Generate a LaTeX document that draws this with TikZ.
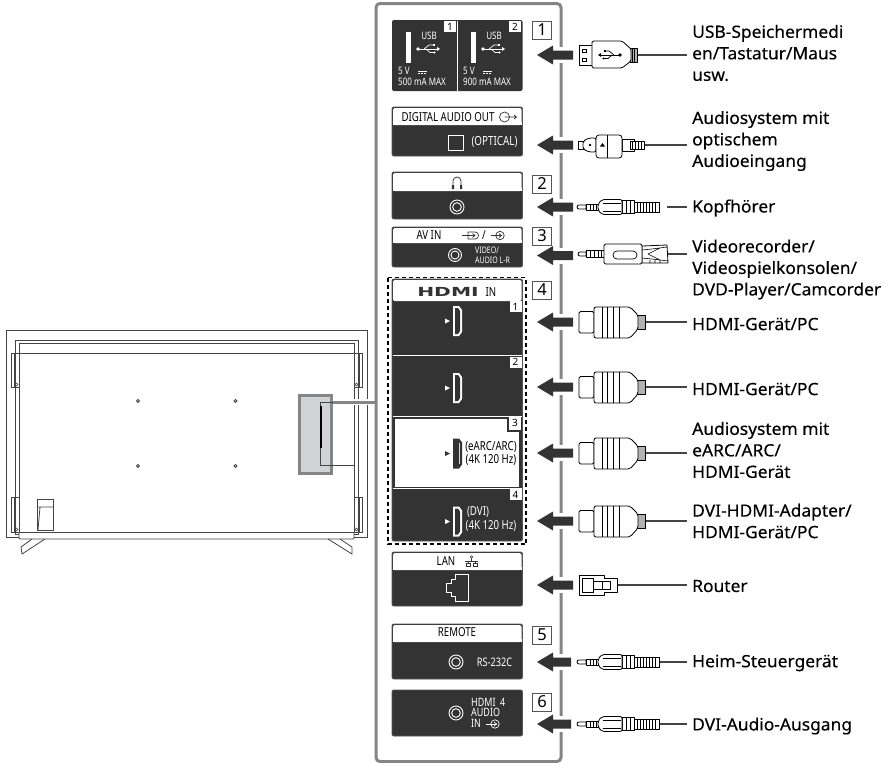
\documentclass[tikz,border=0pt]{standalone}
\usepackage{fontspec}
\setmainfont{Noto Sans}
\newfontfamily\labf[FakeBold=0.25,FakeStretch=1.03]{Noto Sans}
\newfontfamily\condf[FakeStretch=0.78]{Noto Sans}
\newfontfamily\logof{DejaVu Sans}
\definecolor{pdark}{HTML}{333333}
\definecolor{pline}{HTML}{555555}
\definecolor{fgray}{HTML}{858585}
\definecolor{hgray}{HTML}{D2D3D5}
\definecolor{tline}{HTML}{444444}
\tikzset{
  lab/.style={anchor=west,inner sep=0pt,align=left,font=\fontsize{16.9}{21.5}\selectfont\labf,text=black},
  numbox/.style={draw=pline,line width=0.9pt,fill=white,minimum width=19pt,minimum height=18pt,inner sep=0pt,font=\fontsize{16.5}{18}\selectfont,text=black},
  wt/.style={inner sep=0pt,text=white,font=\fontsize{10.3}{11}\selectfont\condf},
  bt/.style={inner sep=0pt,text=black,font=\fontsize{12.4}{13}\selectfont\condf},
  cab/.style={line width=0.8pt,draw=black,fill=white,line join=round},
  cline/.style={line width=1.1pt,draw=tline},
  tvl/.style={line width=0.8pt,draw=tline},
  tab/.style={fill=white,inner sep=0pt,minimum width=12pt,minimum height=11pt,font=\fontsize{10}{10}\selectfont,text=black}
}
% panel: y1 header-bottom y2
\newcommand{\panelbox}[3]{%
  \fill[pdark,rounded corners=2pt] (392,#1) rectangle (522.5,#3);
  \fill[white,rounded corners=1.5pt] (393,{#1+1}) rectangle (521.5,#2);
  \fill[white] (393,{#2-3}) rectangle (521.5,#2);
  \draw[pline,line width=0.9pt,rounded corners=2pt] (392,#1) rectangle (522.5,#3);
}
\newcommand{\larrow}[2]{% y, shaft end
  \fill[white] (552,{#1-8}) rectangle ({#2+2},{#1+8});
  \fill[pdark] (537,#1) -- (553,{#1-9.5}) -- (553,{#1-4.5}) -- (#2,{#1-4.5}) -- (#2,{#1+4.5}) -- (553,{#1+4.5}) -- (553,{#1+9.5}) -- cycle;
}
\newcommand{\usbsym}[4]{% x y xscale color
  \begin{scope}[shift={(#1,#2)},xscale=#3]
    \draw[#4,line width=0.7pt] (-11,0) -- (9,0);
    \draw[#4,line width=0.7pt] (-5,0) -- (0,-4) -- (4,-4);
    \draw[#4,line width=0.7pt] (-3,0) -- (1,3.5) -- (5,3.5);
    \fill[#4] (-11,0) circle[radius=1.8];
    \fill[#4] (11,0) -- (8,-2) -- (8,2) -- cycle;
    \fill[#4] (3.5,-5) rectangle (5.5,-3);
    \fill[#4] (5.5,3.5) circle[radius=1.1];
  \end{scope}
}
\newcommand{\inicon}[3]{% x y color: arrow into circle
  \draw[#3,line width=0.7pt] (#1,#2) circle[radius=4.2];
  \draw[#3,line width=0.7pt] ({#1-9.5},#2) -- ({#1+1.5},#2);
  \draw[#3,line width=0.7pt] ({#1-1},{#2-2}) -- ({#1+1.5},#2) -- ({#1-1},{#2+2});
}
\newcommand{\jacksym}[3]{% x y r
  \draw[white,line width=0.9pt] (#1,#2) circle[radius=#3];
  \draw[white,line width=0.9pt] (#1,#2) circle[radius={#3*0.62}];
}
\newcommand{\hdmiport}[4]{% y center, fill color, inner color, tri color
  \fill[#4] (445,{#1-2.5}) -- (450,#1) -- (445,{#1+2.5}) -- cycle;
  \fill[#2] (453,{#1-15}) -- (459,{#1-15}) -- (462,{#1-11}) -- (462,{#1+11}) -- (459,{#1+15}) -- (453,{#1+15}) -- cycle;
  \fill[#3] (455,{#1-13}) -- (458,{#1-13}) -- (460,{#1-10}) -- (460,{#1+10}) -- (458,{#1+13}) -- (455,{#1+13}) -- cycle;
}
\newcommand{\hdmicable}[1]{%
  \draw[cab,rounded corners=1.5pt] (579,{#1-10.5}) rectangle (594,{#1+11});
  \draw[cab,fill=gray!60] (637,{#1-7}) rectangle (645,{#1+7});
  \draw[cab,rounded corners=2pt] (594,{#1-15}) -- (630,{#1-15}) -- (638,{#1-7}) -- (638,{#1+7}) -- (630,{#1+16}) -- (594,{#1+16}) -- cycle;
  \draw[line width=0.7pt] (602,{#1-15}) -- (602,{#1+16}) (607,{#1-15}) -- (607,{#1+16}) (613,{#1-15}) -- (613,{#1+16}) (619,{#1-15}) -- (619,{#1+16});
}
\newcommand{\minicable}[1]{% y
  \draw[cab] (586,{#1-2}) -- (579,{#1-2}) arc[start angle=-90,end angle=-270,radius=2] -- (586,{#1+2}) -- cycle;
  \draw[cab] (586,{#1-3}) rectangle (598,{#1+3});
  \draw[line width=0.6pt] (590,{#1-3}) -- (590,{#1+3}) (593,{#1-3}) -- (593,{#1+3}) (596,{#1-3}) -- (596,{#1+3});
  \draw[cab] (634,{#1-5}) rectangle (659,{#1+5});
  \foreach \k in {637,640,643,646,649,652,655}{\draw[line width=0.7pt] (\k,{#1-5}) -- (\k,{#1+5});}
  \draw[cab] (622,{#1-6.5}) rectangle (634,{#1+6.5});
  \draw[line width=0.6pt] (626,{#1-6.5}) -- (626,{#1+6.5}) (630,{#1-6.5}) -- (630,{#1+6.5});
  \draw[cab,rounded corners=2pt] (598,{#1-3}) -- (602,{#1-7.5}) -- (622,{#1-7.5}) -- (622,{#1+7.5}) -- (602,{#1+7.5}) -- (598,{#1+3}) -- cycle;
  \draw[line width=0.6pt] (603,{#1-4}) -- (621,{#1-4}) (603,{#1+4}) -- (621,{#1+4});
}
\begin{document}
\begin{tikzpicture}[x=1pt,y=-1pt]
\useasboundingbox (0,0) rectangle (892,763);
\fill[white] (0,0) rectangle (892,763);
% ---------- TV ----------
\draw[tvl] (19,537) -- (6,537) -- (6,330) -- (367,330) -- (367,537) -- (354,537);
\draw[tvl] (19,534) -- (15,534) -- (15,340) -- (358,340) -- (358,534) -- (354,534);
\draw[tvl] (19,533) -- (19,343) -- (354,343) -- (354,533);
\draw[tvl] (19,353) -- (354,353);
\draw[line width=1pt,draw=tline] (19,532) -- (354,532);
\draw[tvl,rounded corners=1pt] (19,532) -- (19,539) -- (354,539) -- (354,532);
\foreach \ya/\yb in {353/387,497/532}{
  \draw[tvl] (19,\ya) -- (11,\ya) -- (11,\yb) -- (19,\yb);
  \draw[tvl] (354,\ya) -- (362,\ya) -- (362,\yb) -- (354,\yb);
  \draw[tvl,line width=0.5pt] (14,\ya) -- (14,\yb) (359,\ya) -- (359,\yb);
  \draw[tvl,line width=0.5pt] (16.5,{\yb-2.5}) circle[radius=1.5] (356.5,{\yb-2.5}) circle[radius=1.5];
}
\foreach \sx in {138,235.5}\foreach \sy in {401,466}{\draw[tvl] (\sx,\sy) circle[radius=1.5];}
\draw[tvl] (21,547) -- (32,539) (45,539) -- (22,554) -- (21,547);
\draw[tvl] (352,547) -- (340,539) (328,539) -- (352,554) -- (352,547);
\draw[tvl] (37,530) rectangle (53,499);
\draw[tvl] (37,507) -- (53,507) (40,507) -- (38,530);
\draw[tvl] (37,530) -- (53,530);
% highlight
\fill[white] (333,399) rectangle (376,405);
\draw[fgray,line width=3pt,fill=hgray] (299.5,395.5) rectangle (331.5,473);
\draw[fgray,line width=3pt] (331.5,402) -- (376,402);
\draw[tvl] (333,402.5) -- (320,402.5) -- (320,465.5) -- (354,465.5);
\draw[line width=1.3pt,draw=black] (321,406) -- (321,448);
% ---------- frame ----------
\draw[fgray,line width=3pt,rounded corners=4pt] (376,3.5) rectangle (561,761.5);
% ---------- USB panel ----------
\fill[pdark,rounded corners=2pt] (392,20) rectangle (522.5,91);
\draw[white,line width=0.5pt] (457,21) -- (457,91);
\node[tab] at (450,26.5) {1};
\node[tab] at (515,26.5) {2};
\fill[white] (406,32) rectangle (411,63);
\fill[white] (471,32) rectangle (476,63);
\node[wt] at (429,36) {USB};
\node[wt] at (494,36) {USB};
\usbsym{429}{49}{1}{white}
\usbsym{494}{49}{1}{white}
\node[wt,anchor=west] at (398,71) {5 V};
\node[wt,anchor=west] at (463,71) {5 V};
\foreach \q in {418,483}{\draw[white,line width=0.6pt] (\q,71) -- (\q+9,71); \draw[white,line width=0.6pt,dash pattern=on 2pt off 1pt] (\q,73) -- (\q+9,73);}
\node[wt,anchor=west] at (398,82) {500 mA MAX};
\node[wt,anchor=west] at (463,82) {900 mA MAX};
% ---------- Digital audio ----------
\panelbox{107}{125}{156}
\node[bt] at (448,117) {DIGITAL AUDIO OUT};
\draw[pdark,line width=0.7pt] (504.5,117) circle[radius=5];
\draw[pdark,line width=0.7pt] (504.5,117) -- (516.5,117) (514,115) -- (516.5,117) -- (514,119);
\draw[white,line width=0.8pt] (448,135) rectangle (463,150);
\node[wt,font=\fontsize{12.6}{13}\selectfont\condf] at (494.5,142) {(OPTICAL)};
% ---------- Headphone ----------
\panelbox{172}{191}{219}
\draw[pdark,line width=0.8pt] (453,186) -- (453,181) arc[start angle=180,end angle=360,radius=4] -- (461,186);
\fill[pdark] (451.8,185) rectangle (454,189) (460,185) rectangle (462.2,189);
\jacksym{457}{207}{7}
% ---------- AV IN ----------
\panelbox{227}{243}{267}
\node[bt] at (429,235) {AV IN};
\draw[pdark,line width=0.7pt] (468,232) -- (475,232) arc[start angle=-90,end angle=90,radius=3.5] -- (468,239) -- cycle;
\draw[pdark,line width=0.7pt] (462,235.5) -- (475,235.5) (472.5,233.5) -- (475,235.5) -- (472.5,237.5);
\node[bt] at (484,235.5) {/};
\inicon{500}{235.5}{pdark}
\jacksym{455}{255}{6.5}
\node[wt,anchor=west,font=\fontsize{9}{9}\selectfont\condf] at (475,250) {VIDEO/};
\node[wt,anchor=west,font=\fontsize{9}{9}\selectfont\condf] at (475,260) {AUDIO L-R};
% ---------- HDMI ----------
\fill[pdark,rounded corners=2pt] (392,279) rectangle (522.5,541);
\fill[white,rounded corners=1.5pt] (393,280) rectangle (521.5,301);
\draw[pline,line width=0.9pt,rounded corners=2pt] (392,279) rectangle (522.5,541);
\node[inner sep=0pt,xscale=1.62,text=pdark,font=\fontsize{12.5}{13}\selectfont\logof\bfseries] at (448,291.5) {HDMI};
\node[bt] at (491,292) {IN};
\draw[white,line width=0.5pt] (393,355.5) -- (522,355.5) (393,416) -- (522,416);
\fill[white] (395,419) rectangle (519,487);
\draw[white,line width=0.7pt] (393,488.5) -- (522,488.5);
\fill[pdark] (507,419) rectangle (519,432);
\fill[white] (509,417) rectangle (521,429.5);
\node[tab,fill=white,minimum width=12pt] at (515,423) {3};
\node[tab] at (515.5,306.5) {1};
\node[tab] at (515.5,362) {2};
\node[tab] at (515.5,494.5) {4};
\hdmiport{321}{white}{pdark}{white}
\hdmiport{388}{white}{pdark}{white}
\hdmiport{453.5}{pdark}{pdark}{pdark}
\draw[white!70!gray,line width=1pt] (459.5,443) -- (459.5,464);
\hdmiport{521.5}{white}{pdark}{white}
\node[bt] at (491,447) {(eARC/ARC)};
\node[bt] at (491,460) {(4K 120 Hz)};
\node[wt,font=\fontsize{12.4}{13}\selectfont\condf] at (478,512) {(DVI)};
\node[wt,font=\fontsize{12.4}{13}\selectfont\condf] at (491,526) {(4K 120 Hz)};
\draw[black,line width=1.6pt,dash pattern=on 4pt off 3pt] (388,277.5) rectangle (526,544);
% ---------- LAN ----------
\panelbox{552}{570}{606}
\node[bt] at (446,561) {LAN};
\draw[pdark,line width=0.5pt] (471.5,557) circle[radius=1.2];
\draw[pdark,line width=0.5pt] (471.5,558) -- (471.5,561) (465,561) -- (478,561) (468,561) -- (468,563) (475,561) -- (475,563);
\draw[pdark,line width=0.5pt] (466,563) rectangle (470,566) (473,563) rectangle (477,566);
\draw[white,line width=0.8pt] (468,574) -- (455,574) -- (455,579) -- (451,579) -- (451,583) -- (446,583) -- (446,592) -- (451,592) -- (451,596) -- (455,596) -- (455,601) -- (468,601) -- cycle;
% ---------- REMOTE ----------
\panelbox{624}{642}{679}
\node[bt] at (457,632) {REMOTE};
\jacksym{456}{662}{7}
\node[wt,font=\fontsize{11.8}{12}\selectfont\condf] at (494.5,662) {RS-232C};
% ---------- HDMI 4 AUDIO ----------
\fill[pdark,rounded corners=2pt] (392,690) rectangle (522.5,736);
\draw[pline,line width=0.9pt,rounded corners=2pt] (392,690) rectangle (522.5,736);
\jacksym{456}{713}{7}
\node[wt,anchor=west,font=\fontsize{11.5}{12}\selectfont\condf] at (471,702) {HDMI\ \ 4};
\node[wt,anchor=west,font=\fontsize{11.5}{12}\selectfont\condf] at (471,712) {AUDIO};
\node[wt,anchor=west,font=\fontsize{11.5}{12}\selectfont\condf] at (471,723) {IN};
\inicon{495}{724}{white}
% ---------- number boxes ----------
\node[numbox] (n1) at (542,30) {1};
\node[numbox] (n2) at (542,184) {2};
\node[numbox] (n3) at (542,236) {3};
\node[numbox] (n4) at (542,290) {4};
\node[numbox] (n5) at (542,635) {5};
\node[numbox] (n6) at (542,702) {6};
% ---------- arrows ----------
\larrow{55}{573}\larrow{145}{573}\larrow{207}{573}\larrow{255.5}{573}
\larrow{322}{573}\larrow{387}{573}\larrow{453}{573}\larrow{521}{573}
\larrow{585}{573}\larrow{662}{571}\larrow{724}{571}
% ---------- labels ----------
\node[lab] (l1) at (692,53) {USB-Speichermedi\\en/Tastatur/Maus\\usw.};
\node[lab] (l2) at (692,141) {Audiosystem mit\\optischem\\Audioeingang};
\node[lab] (l3) at (692,208) {Kopfhörer};
\node[lab] (l4) at (692,269.5) {Videorecorder/\\Videospielkonsolen/\\DVD-Player/Camcorder};
\node[lab] (l5) at (692,324) {HDMI-Gerät/PC};
\node[lab] (l6) at (692,389) {HDMI-Gerät/PC};
\node[lab] (l7) at (692,450) {Audiosystem mit\\eARC/ARC/\\HDMI-Gerät};
\node[lab] (l8) at (692,521) {DVI-HDMI-Adapter/\\HDMI-Gerät/PC};
\node[lab] (l9) at (692,586) {Router};
\node[lab] (l10) at (692,663) {Heim-Steuergerät};
\node[lab] (l11) at (692,726) {DVI-Audio-Ausgang};
% ---------- cables ----------
\coordinate (c1) at (637,55);
\coordinate (c2) at (644,145);
\coordinate (c3) at (667,207);
\coordinate (c4) at (668,254);
\coordinate (c5) at (645,322);
\coordinate (c6) at (645,387);
\coordinate (c7) at (645,453);
\coordinate (c8) at (645,521);
\coordinate (c9) at (617,585);
\coordinate (c10) at (659,662);
\coordinate (c11) at (659,724);
\foreach \i in {1,...,11}{\draw[cline,shorten >=5pt] (c\i) -- (l\i.west |- c\i);}
% USB plug
\draw[cab] (579,45) rectangle (592,65);
\draw[line width=0.6pt] (582,49) rectangle (586,52) (582,58) rectangle (586,61);
\draw[cab,fill=gray!60] (630,48) rectangle (637,62);
\foreach \k in {632,634.5}{\draw[line width=0.5pt] (\k,48) -- (\k,62);}
\draw[cab,rounded corners=1.5pt] (592,41) -- (622,41) -- (631,49) -- (631,61) -- (622,68) -- (592,68) -- cycle;
\usbsym{609}{55}{-1}{black}
% Optical plug
\draw[cab] (578,141) -- (583,141) -- (583,149) -- (578,149) -- cycle;
\draw[cab,rounded corners=2pt] (583,141) -- (589,138) -- (596,138) -- (596,152) -- (589,152) -- (583,149) -- cycle;
\fill (590,145) circle[radius=1.3];
\draw[cab] (622,139) rectangle (634,151);
\draw[cab,fill=white] (630,141) rectangle (644,149);
\foreach \k in {632,635,638,641}{\draw[line width=0.8pt] (\k,141) -- (\k,149);}
\draw[cab,rounded corners=3pt] (596,135) rectangle (622,158);
\draw[line width=0.7pt] (607,135) -- (607,158);
\fill (600,146.5) -- (602.5,143) -- (605,146.5) -- cycle;
% Headphone plug
\minicable{207}
% AV plug
\draw[cab] (586,252) -- (580,252) arc[start angle=-90,end angle=-270,radius=2] -- (586,256) -- cycle;
\draw[cab] (586,250.5) rectangle (604,257.5);
\foreach \k in {590,594,598,601}{\draw[line width=0.7pt] (\k,250.5) -- (\k,257.5);}
\draw[cab] (642,246) -- (667,245) -- (668,263) -- (642,263) -- cycle;
\draw[line width=0.6pt] (642,250) -- (652,249) -- (667,247) (642,258) -- (652,259) -- (668,261) (648,254) -- (660,248) (648,254) -- (660,260) (650,260) -- (650,263) (655,260) -- (655,263) (660,260) -- (660,263);
\draw[cab,rounded corners=1.5pt] (604,244) rectangle (642,264);
\draw[line width=0.7pt,rounded corners=4pt] (613,251) rectangle (637,259);
% HDMI plugs
\hdmicable{322}
\hdmicable{387}
\hdmicable{453}
\hdmicable{521}
% LAN plug
\draw[cab,line width=0.9pt] (579,575) -- (604,575) -- (604,578) -- (617,578) -- (617,592) -- (604,592) -- (604,595) -- (579,595) -- cycle;
\draw[line width=0.8pt] (582,578) -- (593,578) -- (593,592) -- (582,592) -- cycle;
\draw[line width=0.8pt] (593,581) -- (610,581) -- (610,589) -- (593,589);
\draw[line width=0.8pt] (602,581) -- (602,589);
% mini plugs
\minicable{662}
\minicable{724}
\end{tikzpicture}
\end{document}
